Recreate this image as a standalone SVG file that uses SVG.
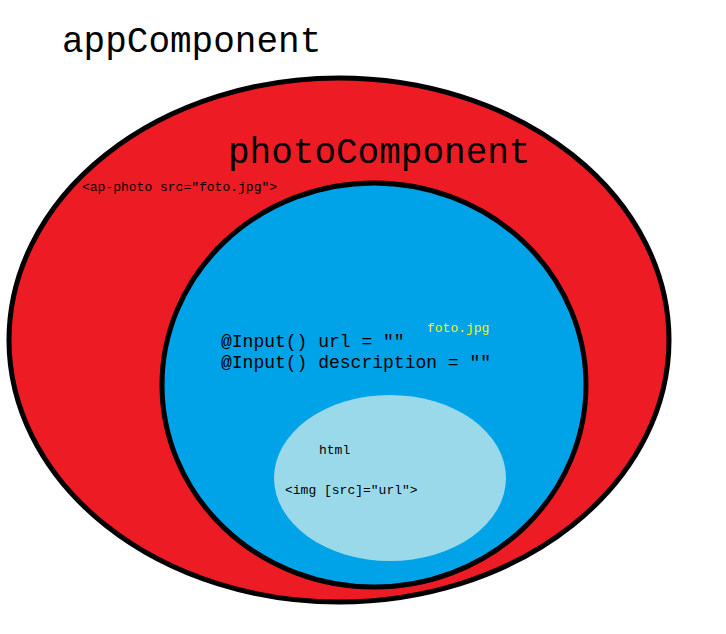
<svg xmlns="http://www.w3.org/2000/svg" width="726" height="634" viewBox="0 0 726 634">
<style>
.t{font-family:"Liberation Mono","Courier New",monospace;fill:#000}
.big{font-size:36px}
.med{font-size:18px}
.sm{font-size:13px}
</style>
<rect width="726" height="634" fill="#fff"/>
<g id="appComponent">
<ellipse cx="339" cy="340" rx="330" ry="262" fill="#ED1C24" stroke="#000" stroke-width="5"/>
<text class="t big" x="62" y="52">appComponent</text>
<text class="t sm" x="82" y="191">&lt;ap-photo src="foto.jpg"&gt;</text>
</g>
<g id="photoComponent">
<ellipse cx="374" cy="385" rx="212" ry="202" fill="#00A2E8" stroke="#000" stroke-width="5"/>
<text class="t big" x="228" y="163">photoComponent</text>
<text class="t med" x="221" y="347">@Input() url = ""</text>
<text class="t med" x="221" y="368">@Input() description = ""</text>
<text class="t sm" x="427" y="332" style="fill:#FFF200">foto.jpg</text>
</g>
<g id="html">
<ellipse cx="390" cy="478" rx="116" ry="83" fill="#99D9EA"/>
<text class="t sm" x="319" y="454">html</text>
<text class="t sm" x="285" y="494">&lt;img [src]="url"&gt;</text>
</g>
<g id="connectors"/>
</svg>
